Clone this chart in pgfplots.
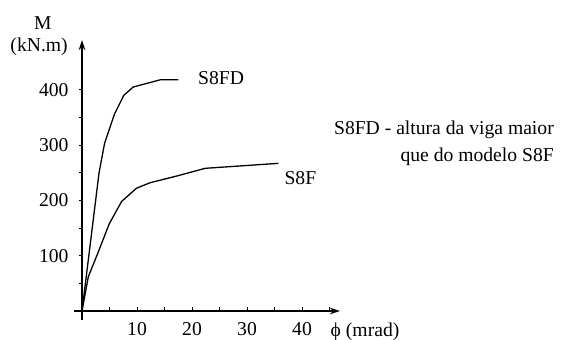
\documentclass[border=0pt]{standalone}
\usepackage{fontspec}
\setmainfont{Liberation Serif}
\usepackage{pgfplots}
\pgfplotsset{compat=1.18}
\usetikzlibrary{arrows.meta}
\begin{document}
\fontsize{19.7}{23}\selectfont
\begin{tikzpicture}
\begin{axis}[
  x=5.5bp, y=0.553bp,
  xmin=-1.5, xmax=46.9, ymin=-16, ymax=490,
  axis lines=middle,
  axis line style={line width=1.1bp, -{Stealth[length=10bp,width=6.5bp,inset=3bp]}},
  clip=false,
  xtick={10,20,30,40}, ytick={100,200,300,400},
  minor xtick={5,15,25,35,45}, minor ytick={50,150,250,350},
  major tick length=3.5bp, minor tick length=3.5bp,
  tick align=center,
  every tick/.style={black, line width=0.9bp},
  x tick style={yshift=1.75bp}, y tick style={xshift=-1.75bp},
  /pgf/number format/assume math mode=true,
  tick label style={font=\fontsize{19.7}{23}\selectfont},
  xticklabel style={anchor=north, yshift=-3bp},
  yticklabel style={anchor=east, xshift=-5bp},
]
\addplot[black, line width=1.3bp] coordinates {
(0,0) (3.1,250) (4.1,303) (5.9,356) (7.6,390) (9.3,405) (14.2,418) (17.5,418)};
\addplot[black, line width=1.3bp] coordinates {
(0,0) (1.15,62) (2.85,104) (4.97,158) (7.2,198) (9.9,222) (12.4,232) (17.2,244) (22.4,258) (35.7,267)};
\node[anchor=west] at (axis cs:19.9,421) {S8FD};
\node[anchor=west] at (axis cs:35.6,240) {S8F};
\node[anchor=east] at (axis cs:87.0,327) {S8FD - altura da viga maior};
\node[anchor=east] at (axis cs:87.0,279) {que do modelo S8F};
\node at (axis cs:-7.1,521) {M};
\node at (axis cs:-7.8,477) {(kN.m)};
\node[anchor=west] at (axis cs:44.0,-38) {ϕ (mrad)};
\coordinate (bl) at (axis cs:-14.91,-52.44);
\coordinate (tr) at (axis cs:89.09,562.39);
\end{axis}
\pgfresetboundingbox
\useasboundingbox (bl) rectangle (tr);
\end{tikzpicture}
\end{document}
